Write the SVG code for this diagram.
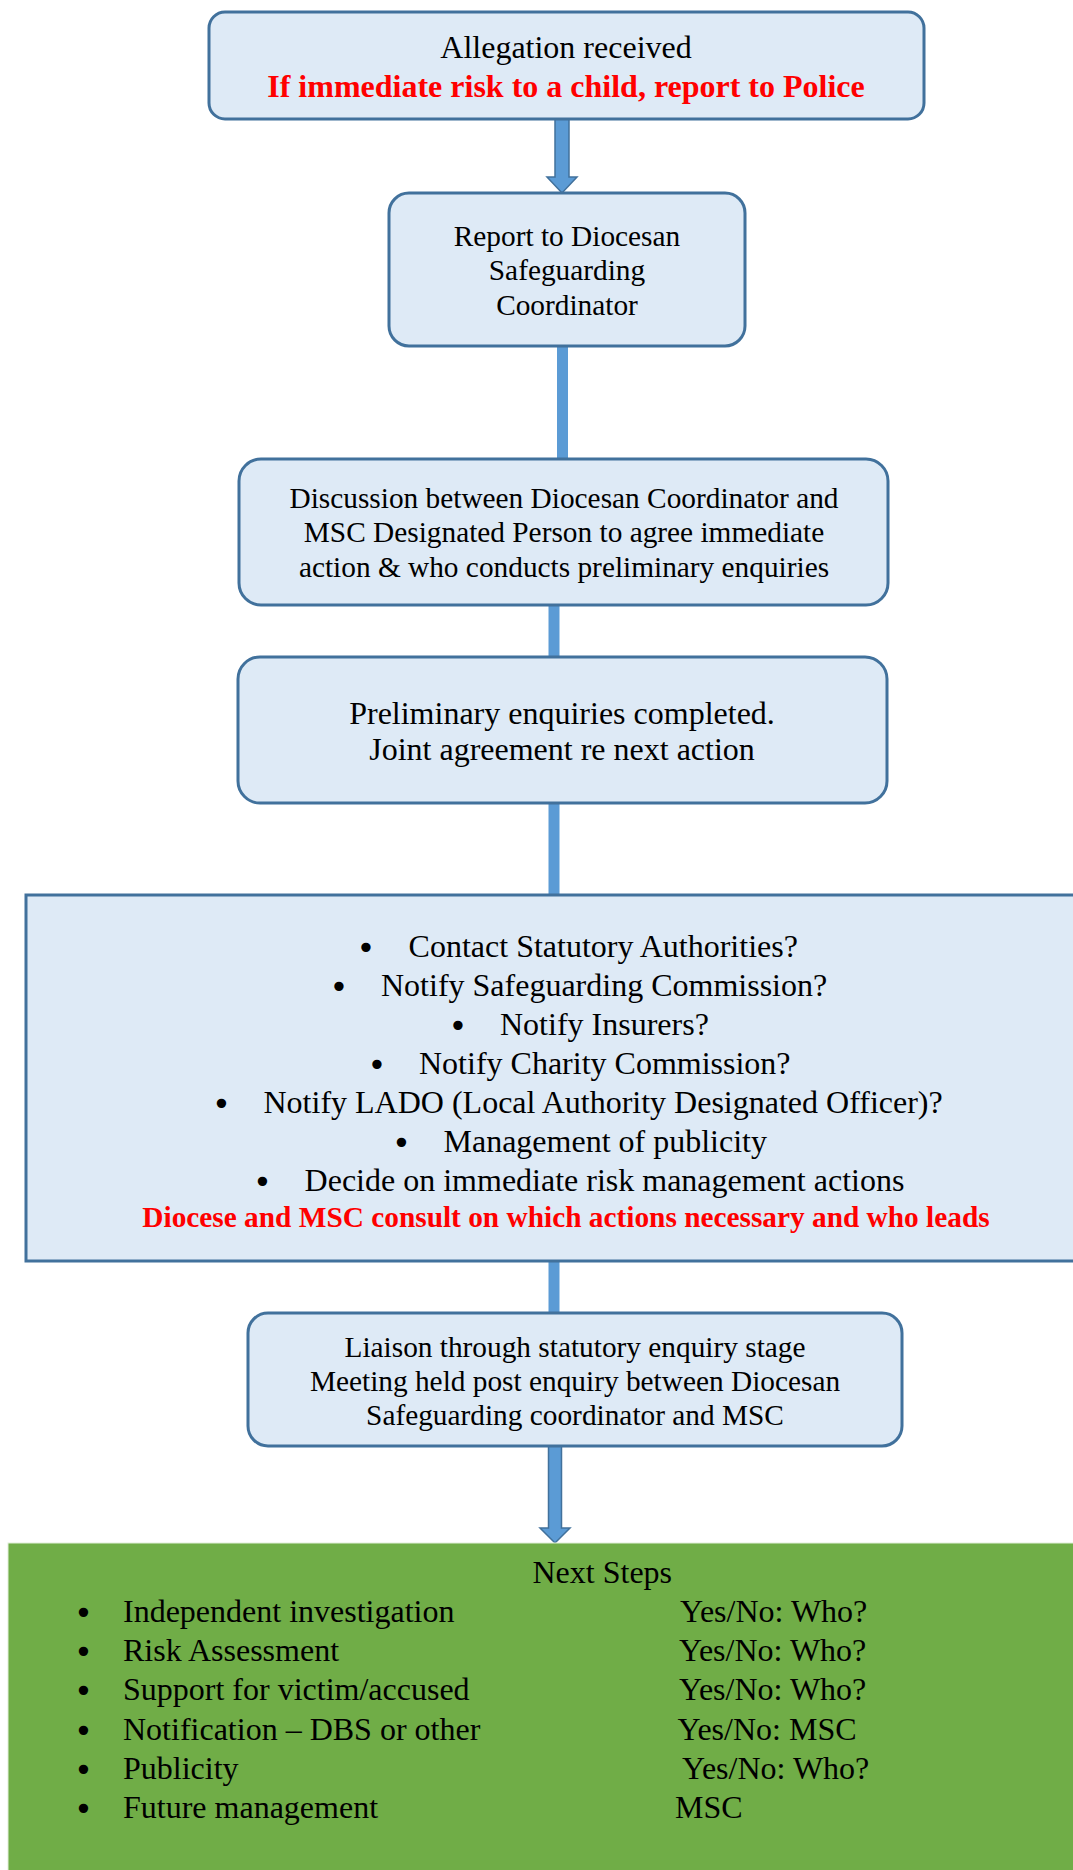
<svg xmlns="http://www.w3.org/2000/svg" width="1073" height="1870" viewBox="0 0 1073 1870">
<style>
.box{fill:#DEEAF6;stroke:#41719C;stroke-width:3}
.t{font-family:"Liberation Serif","Times New Roman",serif;fill:#000}
.s32{font-size:32px}
.s29{font-size:29.33px}
.b{font-family:"DejaVu Sans",sans-serif;fill:#000;font-size:32px;text-anchor:middle}
.red{fill:#FF0000;font-weight:bold}
.c{text-anchor:middle}
.line{stroke:#5B9BD5;stroke-width:11;fill:none}
.arrow{fill:#5B9BD5;stroke:#41719C;stroke-width:1.5}
</style>
<rect x="0" y="0" width="1073" height="1870" fill="#FFFFFF"/>
<g id="connectors">
  <path class="arrow" d="M555,119 L569,119 L569,177 L577,177 L562,193 L547,177 L555,177 Z"/>
  <line class="line" x1="562.5" y1="346" x2="562.5" y2="459"/>
  <line class="line" x1="554" y1="605" x2="554" y2="657"/>
  <line class="line" x1="554" y1="803" x2="554" y2="895"/>
  <line class="line" x1="554" y1="1261" x2="554" y2="1313"/>
  <path class="arrow" d="M548.5,1446 L561.5,1446 L561.5,1528 L570,1528 L555,1543 L540,1528 L548.5,1528 Z"/>
</g>
<g id="node-allegation">
  <rect class="box" x="209" y="12" width="715" height="107" rx="16" ry="16"/>
  <text class="t s32 c" x="566" y="58">Allegation received</text>
  <text class="t s32 c red" x="566" y="97">If immediate risk to a child, report to Police</text>
</g>
<g id="node-report">
  <rect class="box" x="389" y="193" width="356" height="153" rx="20" ry="20"/>
  <text class="t s29 c" x="567" y="246">Report to Diocesan</text>
  <text class="t s29 c" x="567" y="280">Safeguarding</text>
  <text class="t s29 c" x="567" y="315">Coordinator</text>
</g>
<g id="node-discussion">
  <rect class="box" x="239" y="459" width="649" height="146" rx="22" ry="22"/>
  <text class="t s29 c" x="564" y="508">Discussion between Diocesan Coordinator and</text>
  <text class="t s29 c" x="564" y="542">MSC Designated Person to agree immediate</text>
  <text class="t s29 c" x="564" y="577">action &amp; who conducts preliminary enquiries</text>
</g>
<g id="node-preliminary">
  <rect class="box" x="238" y="657" width="649" height="146" rx="22" ry="22"/>
  <text class="t s32 c" x="562" y="724">Preliminary enquiries completed.</text>
  <text class="t s32 c" x="562" y="760">Joint agreement re next action</text>
</g>
<g id="node-actions">
  <rect class="box" x="26" y="895" width="1120" height="366"/>
  <text class="b" x="366" y="959">•</text>
  <text class="t s32" x="408.6" y="957">Contact Statutory Authorities?</text>
  <text class="b" x="339" y="998">•</text>
  <text class="t s32" x="381" y="996">Notify Safeguarding Commission?</text>
  <text class="b" x="458" y="1037">•</text>
  <text class="t s32" x="500" y="1035">Notify Insurers?</text>
  <text class="b" x="377" y="1076">•</text>
  <text class="t s32" x="419" y="1074">Notify Charity Commission?</text>
  <text class="b" x="221.5" y="1115">•</text>
  <text class="t s32" x="263.5" y="1113">Notify LADO (Local Authority Designated Officer)?</text>
  <text class="b" x="401.5" y="1154">•</text>
  <text class="t s32" x="443.5" y="1152">Management of publicity</text>
  <text class="b" x="262.5" y="1193">•</text>
  <text class="t s32" x="304.6" y="1191">Decide on immediate risk management actions</text>
  <text class="t s29 c red" x="566" y="1227">Diocese and MSC consult on which actions necessary and who leads</text>
</g>
<g id="node-liaison">
  <rect class="box" x="248" y="1313" width="654" height="133" rx="20" ry="20"/>
  <text class="t s29 c" x="575" y="1357">Liaison through statutory enquiry stage</text>
  <text class="t s29 c" x="575" y="1391">Meeting held post enquiry between Diocesan</text>
  <text class="t s29 c" x="575" y="1425">Safeguarding coordinator and MSC</text>
</g>
<g id="node-next-steps">
  <rect x="8" y="1543" width="1080" height="340" fill="#70AD47" stroke="#E2EFDA" stroke-width="1"/>
  <text class="t s32" x="532.5" y="1583">Next Steps</text>
  <text class="b" x="83.5" y="1624">•</text>
  <text class="t s32" x="123" y="1622">Independent investigation</text>
  <text class="t s32" x="680" y="1622">Yes/No: Who?</text>
  <text class="b" x="83.5" y="1663">•</text>
  <text class="t s32" x="123" y="1661">Risk Assessment</text>
  <text class="t s32" x="679" y="1661">Yes/No: Who?</text>
  <text class="b" x="83.5" y="1702">•</text>
  <text class="t s32" x="123" y="1700">Support for victim/accused</text>
  <text class="t s32" x="679" y="1700">Yes/No: Who?</text>
  <text class="b" x="83.5" y="1742">•</text>
  <text class="t s32" x="123" y="1740">Notification – DBS or other</text>
  <text class="t s32" x="677.5" y="1740">Yes/No: MSC</text>
  <text class="b" x="83.5" y="1781">•</text>
  <text class="t s32" x="123" y="1779">Publicity</text>
  <text class="t s32" x="682" y="1779">Yes/No: Who?</text>
  <text class="b" x="83.5" y="1820">•</text>
  <text class="t s32" x="123" y="1818">Future management</text>
  <text class="t s32" x="675" y="1818">MSC</text>
</g>
</svg>
